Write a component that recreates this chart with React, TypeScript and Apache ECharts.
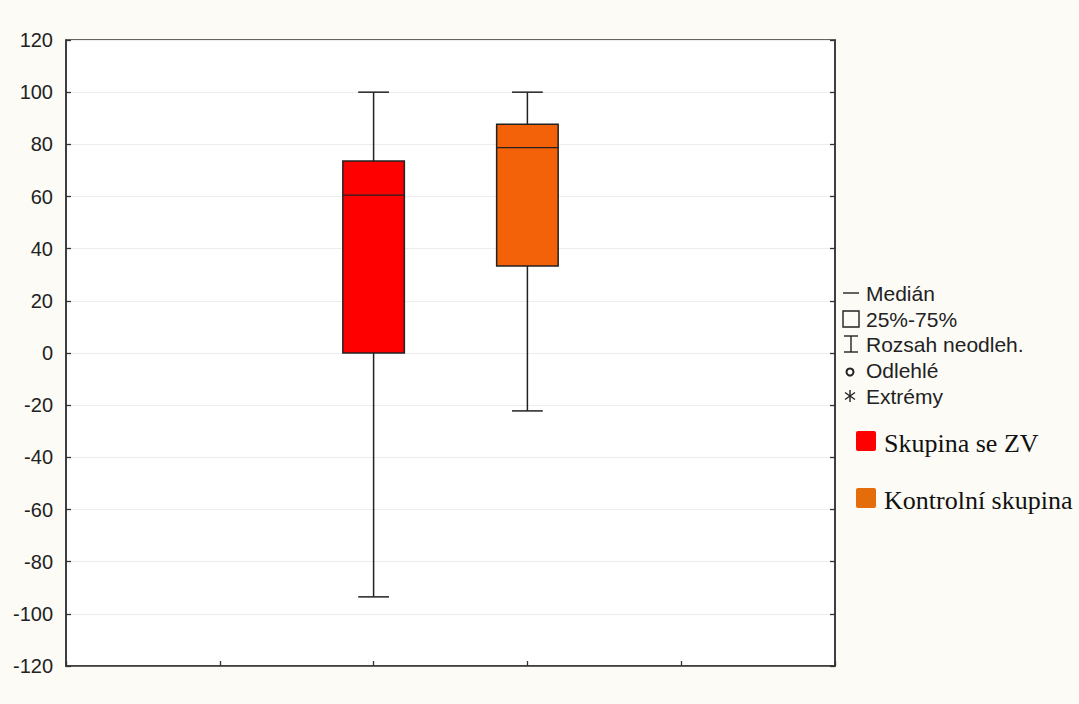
import React, { useEffect, useRef } from "react";
import * as echarts from "echarts";

// ---- data ----
const groups = ["Skupina se ZV", "Kontrolní skupina"];
const groupPos = [2, 3]; // positions on the x scale (0..5)
const whiskerLow = [-93.5, -22.2];
const quartile1 = [0, 33.4];
const median = [60.5, 78.7];
const quartile3 = [73.6, 87.7];
const whiskerHigh = [100, 100];
const boxColors = ["#FF0000", "#F36208"];
const legendSwatchColors = ["#FF0000", "#E46C0A"];
const statLegendLabels = ["Medián", "25%-75%", "Rozsah neodleh.", "Odlehlé", "Extrémy"];

const Y_MIN = -120;
const Y_MAX = 120;
const Y_STEP = 20;

export default function App() {
  const ref = useRef<HTMLDivElement>(null);

  useEffect(() => {
    document.body.style.margin = "0";
    if (!ref.current) return;
    const chart = echarts.init(ref.current, undefined, { renderer: "svg" });

    const data = groups.map((g, i) => [
      groupPos[i],
      whiskerLow[i],
      quartile1[i],
      median[i],
      quartile3[i],
      whiskerHigh[i],
      i,
    ]);

    const lineStyle = { stroke: "#222", lineWidth: 1.5 };

    const renderItem = (params: any, api: any) => {
      const x = api.value(0);
      const lo = api.coord([x, api.value(1)]);
      const q1 = api.coord([x, api.value(2)]);
      const md = api.coord([x, api.value(3)]);
      const q3 = api.coord([x, api.value(4)]);
      const hi = api.coord([x, api.value(5)]);
      const idx = api.value(6);
      const w = api.size([1, 0])[0] * 0.4;
      const cap = w / 4;
      const cx = lo[0];
      return {
        type: "group",
        children: [
          { type: "line", shape: { x1: cx, y1: hi[1], x2: cx, y2: q3[1] }, style: lineStyle },
          { type: "line", shape: { x1: cx, y1: q1[1], x2: cx, y2: lo[1] }, style: lineStyle },
          { type: "line", shape: { x1: cx - cap, y1: hi[1], x2: cx + cap, y2: hi[1] }, style: lineStyle },
          { type: "line", shape: { x1: cx - cap, y1: lo[1], x2: cx + cap, y2: lo[1] }, style: lineStyle },
          {
            type: "rect",
            shape: { x: cx - w / 2, y: q3[1], width: w, height: q1[1] - q3[1] },
            style: { fill: boxColors[idx], stroke: "#222", lineWidth: 1.5 },
          },
          { type: "line", shape: { x1: cx - w / 2, y1: md[1], x2: cx + w / 2, y2: md[1] }, style: { stroke: "#222", lineWidth: 1.2 } },
        ],
      };
    };

    // stat legend graphics
    const lx = 851;
    const rows = [293, 319, 344, 370, 396];
    const gStroke = { stroke: "#222", lineWidth: 1.4, fill: "none" };
    const graphics: any[] = [
      { type: "line", shape: { x1: lx - 8, y1: rows[0], x2: lx + 8, y2: rows[0] }, style: gStroke },
      { type: "rect", shape: { x: lx - 8, y: rows[1] - 8, width: 16, height: 16 }, style: gStroke },
      { type: "line", shape: { x1: lx, y1: rows[2] - 8, x2: lx, y2: rows[2] + 8 }, style: gStroke },
      { type: "line", shape: { x1: lx - 7, y1: rows[2] - 8, x2: lx + 7, y2: rows[2] - 8 }, style: gStroke },
      { type: "line", shape: { x1: lx - 7, y1: rows[2] + 8, x2: lx + 7, y2: rows[2] + 8 }, style: gStroke },
      { type: "circle", shape: { cx: lx - 1, cy: rows[3] + 2, r: 3.5 }, style: { stroke: "#222", lineWidth: 2, fill: "#fff" } },
      { type: "line", shape: { x1: lx - 1, y1: rows[4] - 6, x2: lx - 1, y2: rows[4] + 6 }, style: gStroke },
      { type: "line", shape: { x1: lx - 6, y1: rows[4] - 3.5, x2: lx + 4, y2: rows[4] + 3.5 }, style: gStroke },
      { type: "line", shape: { x1: lx - 6, y1: rows[4] + 3.5, x2: lx + 4, y2: rows[4] - 3.5 }, style: gStroke },
    ];
    statLegendLabels.forEach((t, i) => {
      graphics.push({
        type: "text",
        x: 866,
        y: rows[i],
        style: {
          text: t,
          fill: "#222",
          font: "21px 'Liberation Sans', Arial, sans-serif",
          textVerticalAlign: "middle",
        },
      });
    });
    const swatchY = [441, 498];
    groups.forEach((g, i) => {
      graphics.push({
        type: "rect",
        shape: { x: 856, y: swatchY[i] - 10, width: 20, height: 20, r: 2 },
        style: { fill: legendSwatchColors[i] },
      });
      graphics.push({
        type: "text",
        x: 884,
        y: swatchY[i] + 2,
        style: {
          text: g,
          fill: "#111",
          font: "26px 'Liberation Serif', 'Times New Roman', serif",
          textVerticalAlign: "middle",
        },
      });
    });

    chart.setOption({
      animation: false,
      backgroundColor: "#fcfbf6",
      grid: {
        left: 66,
        top: 40,
        right: 1079 - 835,
        bottom: 704 - 666,
        show: true,
        backgroundColor: "#ffffff",
        borderColor: "#333",
        borderWidth: 1.5,
      },
      xAxis: {
        type: "value",
        min: 0,
        max: 5,
        interval: 1,
        axisLine: { show: true, onZero: false, lineStyle: { color: "#333", width: 1.5 } },
        axisTick: { show: true, inside: true, length: 5, lineStyle: { color: "#333", width: 1.3 } },
        axisLabel: { show: false },
        splitLine: { show: false },
      },
      yAxis: [
        {
          type: "value",
          min: Y_MIN,
          max: Y_MAX,
          interval: Y_STEP,
          axisLine: { show: true, lineStyle: { color: "#333", width: 1.5 } },
          axisTick: { show: true, inside: true, length: 5, lineStyle: { color: "#333", width: 1.3 } },
          axisLabel: {
            show: true,
            margin: 13,
            color: "#222",
            fontSize: 20,
            fontFamily: "'Liberation Sans', Arial, sans-serif",
          },
          splitLine: { show: true, lineStyle: { color: "#ececec", width: 1 } },
        },
        {
          type: "value",
          position: "right",
          min: Y_MIN,
          max: Y_MAX,
          interval: Y_STEP,
          axisLine: { show: true, lineStyle: { color: "#333", width: 1.5 } },
          axisTick: { show: true, inside: true, length: 5, lineStyle: { color: "#333", width: 1.3 } },
          axisLabel: { show: false },
          splitLine: { show: false },
        },
      ],
      series: [
        {
          type: "custom",
          name: "boxes",
          renderItem,
          encode: { x: 0, y: [1, 2, 3, 4, 5] },
          data,
          clip: false,
        },
      ],
      graphic: graphics,
    });

    return () => chart.dispose();
  }, []);

  return <div ref={ref} style={{ width: 1079, height: 704 }} />;
}
